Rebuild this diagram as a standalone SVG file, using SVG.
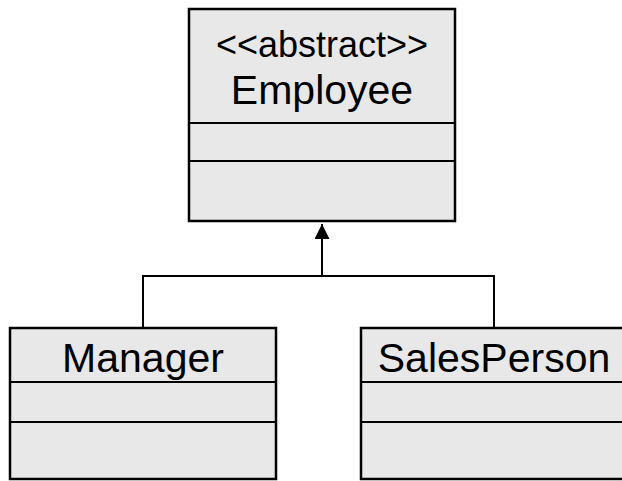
<svg xmlns="http://www.w3.org/2000/svg" width="622" height="481" viewBox="0 0 622 481">
  <defs>
    <style>
      .box { fill: #e8e8e8; stroke: #000; stroke-width: 2.5; }
      .sep { stroke: #000; stroke-width: 2; }
      .lbl { font-family: "Liberation Sans", Arial, sans-serif; fill: #000; text-anchor: middle; }
      .conn { fill: none; stroke: #000; stroke-width: 2; }
    </style>
    <marker id="arrow" markerUnits="userSpaceOnUse" markerWidth="16" markerHeight="16" refX="15" refY="7.5" orient="auto">
      <path d="M0,0 L15,7.5 L0,15 Z" fill="#000"/>
    </marker>
  </defs>

  <rect width="622" height="481" fill="#fff"/>

  <!-- inheritance connectors -->
  <g id="connectors">
    <path class="conn" d="M143,328 V276 H494 V328"/>
    <path class="conn" d="M322,276 V224" marker-end="url(#arrow)"/>
  </g>

  <!-- abstract base class -->
  <g id="employee">
    <rect class="box" x="189" y="9" width="266" height="212"/>
    <line class="sep" x1="189" y1="123" x2="455" y2="123"/>
    <line class="sep" x1="189" y1="161" x2="455" y2="161"/>
    <text class="lbl" x="322" y="57" font-size="36">&lt;&lt;abstract&gt;&gt;</text>
    <text class="lbl" x="322" y="104" font-size="41">Employee</text>
  </g>

  <!-- subclasses -->
  <g id="manager">
    <rect class="box" x="10" y="328" width="266" height="151"/>
    <line class="sep" x1="10" y1="382" x2="276" y2="382"/>
    <line class="sep" x1="10" y1="422" x2="276" y2="422"/>
    <text class="lbl" x="143" y="372" font-size="41">Manager</text>
  </g>

  <g id="salesperson">
    <rect class="box" x="361" y="328" width="266" height="151"/>
    <line class="sep" x1="361" y1="382" x2="627" y2="382"/>
    <line class="sep" x1="361" y1="422" x2="627" y2="422"/>
    <text class="lbl" x="494" y="372" font-size="41">SalesPerson</text>
  </g>
</svg>
